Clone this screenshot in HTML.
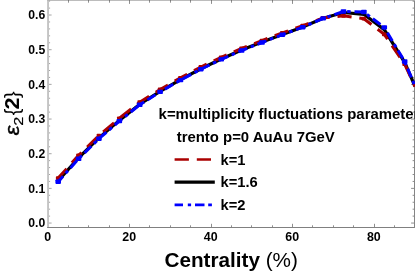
<!DOCTYPE html>
<html><head><meta charset="utf-8"><title>chart</title><style>html,body{margin:0;padding:0;background:#fff;overflow:hidden}body{width:415px;height:273px;position:relative}</style></head><body>
<svg width="415" height="273" viewBox="0 0 415 273" style="position:absolute;left:0;top:0;will-change:transform">
<defs><clipPath id="cp"><rect x="48.5" y="0.5" width="367" height="226.7"/></clipPath></defs>
<g stroke="#8c8c8c" stroke-width="1" fill="none">
<path d="M48.05,0V228" stroke="#c4c4c4" stroke-width="1.9"/>
<path d="M47.2,227.5H415" stroke="#808080" stroke-width="1"/>
<path d="M414.5,0V228" stroke="#858585" stroke-width="1"/>
<path d="M47.2,0.4H415" stroke="#b4b4b4" stroke-width="1"/>
<path d="M49,223.05h2.6" stroke="#808080" stroke-width="0.7"/>
<path d="M414,223.05h-2.9" stroke="#686868" stroke-width="0.75"/>
<path d="M49,216.12h1.1" stroke="#808080" stroke-width="0.7"/>
<path d="M414,216.12h-1.4000000000000001" stroke="#686868" stroke-width="0.75"/>
<path d="M49,209.18h1.1" stroke="#808080" stroke-width="0.7"/>
<path d="M414,209.18h-1.4000000000000001" stroke="#686868" stroke-width="0.75"/>
<path d="M49,202.25h1.1" stroke="#808080" stroke-width="0.7"/>
<path d="M414,202.25h-1.4000000000000001" stroke="#686868" stroke-width="0.75"/>
<path d="M49,195.31h1.1" stroke="#808080" stroke-width="0.7"/>
<path d="M414,195.31h-1.4000000000000001" stroke="#686868" stroke-width="0.75"/>
<path d="M49,188.38h2.6" stroke="#808080" stroke-width="0.7"/>
<path d="M414,188.38h-2.9" stroke="#686868" stroke-width="0.75"/>
<path d="M49,181.45h1.1" stroke="#808080" stroke-width="0.7"/>
<path d="M414,181.45h-1.4000000000000001" stroke="#686868" stroke-width="0.75"/>
<path d="M49,174.51h1.1" stroke="#808080" stroke-width="0.7"/>
<path d="M414,174.51h-1.4000000000000001" stroke="#686868" stroke-width="0.75"/>
<path d="M49,167.58h1.1" stroke="#808080" stroke-width="0.7"/>
<path d="M414,167.58h-1.4000000000000001" stroke="#686868" stroke-width="0.75"/>
<path d="M49,160.64h1.1" stroke="#808080" stroke-width="0.7"/>
<path d="M414,160.64h-1.4000000000000001" stroke="#686868" stroke-width="0.75"/>
<path d="M49,153.71h2.6" stroke="#808080" stroke-width="0.7"/>
<path d="M414,153.71h-2.9" stroke="#686868" stroke-width="0.75"/>
<path d="M49,146.78h1.1" stroke="#808080" stroke-width="0.7"/>
<path d="M414,146.78h-1.4000000000000001" stroke="#686868" stroke-width="0.75"/>
<path d="M49,139.84h1.1" stroke="#808080" stroke-width="0.7"/>
<path d="M414,139.84h-1.4000000000000001" stroke="#686868" stroke-width="0.75"/>
<path d="M49,132.91h1.1" stroke="#808080" stroke-width="0.7"/>
<path d="M414,132.91h-1.4000000000000001" stroke="#686868" stroke-width="0.75"/>
<path d="M49,125.97h1.1" stroke="#808080" stroke-width="0.7"/>
<path d="M414,125.97h-1.4000000000000001" stroke="#686868" stroke-width="0.75"/>
<path d="M49,119.04h2.6" stroke="#808080" stroke-width="0.7"/>
<path d="M414,119.04h-2.9" stroke="#686868" stroke-width="0.75"/>
<path d="M49,112.11h1.1" stroke="#808080" stroke-width="0.7"/>
<path d="M414,112.11h-1.4000000000000001" stroke="#686868" stroke-width="0.75"/>
<path d="M49,105.17h1.1" stroke="#808080" stroke-width="0.7"/>
<path d="M414,105.17h-1.4000000000000001" stroke="#686868" stroke-width="0.75"/>
<path d="M49,98.24h1.1" stroke="#808080" stroke-width="0.7"/>
<path d="M414,98.24h-1.4000000000000001" stroke="#686868" stroke-width="0.75"/>
<path d="M49,91.30h1.1" stroke="#808080" stroke-width="0.7"/>
<path d="M414,91.30h-1.4000000000000001" stroke="#686868" stroke-width="0.75"/>
<path d="M49,84.37h2.6" stroke="#808080" stroke-width="0.7"/>
<path d="M414,84.37h-2.9" stroke="#686868" stroke-width="0.75"/>
<path d="M49,77.44h1.1" stroke="#808080" stroke-width="0.7"/>
<path d="M414,77.44h-1.4000000000000001" stroke="#686868" stroke-width="0.75"/>
<path d="M49,70.50h1.1" stroke="#808080" stroke-width="0.7"/>
<path d="M414,70.50h-1.4000000000000001" stroke="#686868" stroke-width="0.75"/>
<path d="M49,63.57h1.1" stroke="#808080" stroke-width="0.7"/>
<path d="M414,63.57h-1.4000000000000001" stroke="#686868" stroke-width="0.75"/>
<path d="M49,56.63h1.1" stroke="#808080" stroke-width="0.7"/>
<path d="M414,56.63h-1.4000000000000001" stroke="#686868" stroke-width="0.75"/>
<path d="M49,49.70h2.6" stroke="#808080" stroke-width="0.7"/>
<path d="M414,49.70h-2.9" stroke="#686868" stroke-width="0.75"/>
<path d="M49,42.77h1.1" stroke="#808080" stroke-width="0.7"/>
<path d="M414,42.77h-1.4000000000000001" stroke="#686868" stroke-width="0.75"/>
<path d="M49,35.83h1.1" stroke="#808080" stroke-width="0.7"/>
<path d="M414,35.83h-1.4000000000000001" stroke="#686868" stroke-width="0.75"/>
<path d="M49,28.90h1.1" stroke="#808080" stroke-width="0.7"/>
<path d="M414,28.90h-1.4000000000000001" stroke="#686868" stroke-width="0.75"/>
<path d="M49,21.96h1.1" stroke="#808080" stroke-width="0.7"/>
<path d="M414,21.96h-1.4000000000000001" stroke="#686868" stroke-width="0.75"/>
<path d="M49,15.03h2.6" stroke="#808080" stroke-width="0.7"/>
<path d="M414,15.03h-2.9" stroke="#686868" stroke-width="0.75"/>
<path d="M49,8.10h1.1" stroke="#808080" stroke-width="0.7"/>
<path d="M414,8.10h-1.4000000000000001" stroke="#686868" stroke-width="0.75"/>
<path d="M49,1.16h1.1" stroke="#808080" stroke-width="0.7"/>
<path d="M414,1.16h-1.4000000000000001" stroke="#686868" stroke-width="0.75"/>
<path d="M68.5,227v-1.7 M68.5,0v2.7" stroke="#626262" stroke-width="0.72"/>
<path d="M88.5,227v-1.7 M88.5,0v2.7" stroke="#626262" stroke-width="0.72"/>
<path d="M109.5,227v-1.7 M109.5,0v2.7" stroke="#626262" stroke-width="0.72"/>
<path d="M129.5,227v-3.2 M129.5,0v3.9" stroke="#626262" stroke-width="0.72"/>
<path d="M149.5,227v-1.7 M149.5,0v2.7" stroke="#626262" stroke-width="0.72"/>
<path d="M170.5,227v-1.7 M170.5,0v2.7" stroke="#626262" stroke-width="0.72"/>
<path d="M190.5,227v-1.7 M190.5,0v2.7" stroke="#626262" stroke-width="0.72"/>
<path d="M211.5,227v-3.2 M211.5,0v3.9" stroke="#626262" stroke-width="0.72"/>
<path d="M231.5,227v-1.7 M231.5,0v2.7" stroke="#626262" stroke-width="0.72"/>
<path d="M251.5,227v-1.7 M251.5,0v2.7" stroke="#626262" stroke-width="0.72"/>
<path d="M272.5,227v-1.7 M272.5,0v2.7" stroke="#626262" stroke-width="0.72"/>
<path d="M292.5,227v-3.2 M292.5,0v3.9" stroke="#626262" stroke-width="0.72"/>
<path d="M312.5,227v-1.7 M312.5,0v2.7" stroke="#626262" stroke-width="0.72"/>
<path d="M333.5,227v-1.7 M333.5,0v2.7" stroke="#626262" stroke-width="0.72"/>
<path d="M353.5,227v-1.7 M353.5,0v2.7" stroke="#626262" stroke-width="0.72"/>
<path d="M374.5,227v-3.2 M374.5,0v3.9" stroke="#626262" stroke-width="0.72"/>
<path d="M394.5,227v-1.7 M394.5,0v2.7" stroke="#626262" stroke-width="0.72"/>
</g>
<g clip-path="url(#cp)">
<path d="M58.19,180.80 L78.57,157.90 L98.95,137.90 L119.33,120.40 L139.71,104.20 L160.09,91.40 L180.47,79.60 L200.85,68.80 L221.23,59.00 L241.61,50.10 L261.99,42.10 L282.37,34.40 L302.75,26.90 L323.13,18.20 L343.51,12.50 L363.89,14.30 L384.27,29.70 L404.65,62.30 L415.00,86.30" fill="none" stroke="#000" stroke-width="3.2"/>
<path d="M58.19,178.10 L78.57,155.40 L98.95,135.60 L119.33,118.30 L139.71,102.20 L160.09,89.50 L180.47,77.80 L200.85,67.00 L221.23,57.30 L241.61,48.50 L261.99,40.60 L282.37,32.90 L302.75,25.70 L323.13,17.90 L343.51,15.80 L363.89,18.70 L384.27,34.40 L404.65,64.10 L415.00,86.60" fill="none" stroke="#AA0000" stroke-width="3.0" stroke-dasharray="14.2 7.8" stroke-dashoffset="1.5"/>
<rect x="55.89" y="176.20" width="4.6" height="3.8" rx="0.8" fill="#AA0000"/>
<rect x="76.27" y="153.50" width="4.6" height="3.8" rx="0.8" fill="#AA0000"/>
<rect x="96.65" y="133.70" width="4.6" height="3.8" rx="0.8" fill="#AA0000"/>
<rect x="117.03" y="116.40" width="4.6" height="3.8" rx="0.8" fill="#AA0000"/>
<rect x="137.41" y="100.30" width="4.6" height="3.8" rx="0.8" fill="#AA0000"/>
<rect x="157.79" y="87.60" width="4.6" height="3.8" rx="0.8" fill="#AA0000"/>
<rect x="178.17" y="75.90" width="4.6" height="3.8" rx="0.8" fill="#AA0000"/>
<rect x="198.55" y="65.10" width="4.6" height="3.8" rx="0.8" fill="#AA0000"/>
<rect x="218.93" y="55.40" width="4.6" height="3.8" rx="0.8" fill="#AA0000"/>
<rect x="239.31" y="46.60" width="4.6" height="3.8" rx="0.8" fill="#AA0000"/>
<rect x="259.69" y="38.70" width="4.6" height="3.8" rx="0.8" fill="#AA0000"/>
<rect x="280.07" y="31.00" width="4.6" height="3.8" rx="0.8" fill="#AA0000"/>
<rect x="300.45" y="23.80" width="4.6" height="3.8" rx="0.8" fill="#AA0000"/>
<rect x="320.83" y="16.00" width="4.6" height="3.8" rx="0.8" fill="#AA0000"/>
<rect x="341.21" y="13.90" width="4.6" height="3.8" rx="0.8" fill="#AA0000"/>
<rect x="361.59" y="16.80" width="4.6" height="3.8" rx="0.8" fill="#AA0000"/>
<rect x="381.97" y="32.50" width="4.6" height="3.8" rx="0.8" fill="#AA0000"/>
<rect x="402.35" y="62.20" width="4.6" height="3.8" rx="0.8" fill="#AA0000"/>

<path d="M58.19,181.70 L78.57,158.80 L98.95,138.70 L119.33,121.10 L139.71,104.80 L160.09,91.90 L180.47,80.10 L200.85,69.20 L221.23,59.40 L241.61,50.50 L261.99,42.50 L282.37,34.70 L302.75,27.20 L323.13,18.40 L343.51,11.50 L363.89,12.00 L384.27,27.40 L404.65,61.50 L415.00,86.00" fill="none" stroke="#0000FF" stroke-width="3.0" stroke-dasharray="9.5 3.8 3.5 3.8" stroke-dashoffset="2.15"/>
<rect x="55.39" y="179.50" width="5.6" height="4.4" rx="0.8" fill="#0000FF"/>
<rect x="75.77" y="156.60" width="5.6" height="4.4" rx="0.8" fill="#0000FF"/>
<rect x="96.15" y="136.50" width="5.6" height="4.4" rx="0.8" fill="#0000FF"/>
<rect x="116.53" y="118.90" width="5.6" height="4.4" rx="0.8" fill="#0000FF"/>
<rect x="136.91" y="102.60" width="5.6" height="4.4" rx="0.8" fill="#0000FF"/>
<rect x="157.29" y="89.70" width="5.6" height="4.4" rx="0.8" fill="#0000FF"/>
<rect x="177.67" y="77.90" width="5.6" height="4.4" rx="0.8" fill="#0000FF"/>
<rect x="198.05" y="67.00" width="5.6" height="4.4" rx="0.8" fill="#0000FF"/>
<rect x="218.43" y="57.20" width="5.6" height="4.4" rx="0.8" fill="#0000FF"/>
<rect x="238.81" y="48.30" width="5.6" height="4.4" rx="0.8" fill="#0000FF"/>
<rect x="259.19" y="40.30" width="5.6" height="4.4" rx="0.8" fill="#0000FF"/>
<rect x="279.57" y="32.50" width="5.6" height="4.4" rx="0.8" fill="#0000FF"/>
<rect x="299.95" y="25.00" width="5.6" height="4.4" rx="0.8" fill="#0000FF"/>
<rect x="320.33" y="16.20" width="5.6" height="4.4" rx="0.8" fill="#0000FF"/>
<rect x="340.71" y="9.30" width="5.6" height="4.4" rx="0.8" fill="#0000FF"/>
<rect x="361.09" y="9.80" width="5.6" height="4.4" rx="0.8" fill="#0000FF"/>
<rect x="381.47" y="25.20" width="5.6" height="4.4" rx="0.8" fill="#0000FF"/>
<rect x="401.85" y="59.30" width="5.6" height="4.4" rx="0.8" fill="#0000FF"/>

</g>
<g font-family="Liberation Sans, sans-serif" font-weight="bold" fill="#000">
<text x="45.3" y="227.40" font-size="12.2" text-anchor="end">0.0</text>
<text x="45.3" y="192.73" font-size="12.2" text-anchor="end">0.1</text>
<text x="45.3" y="158.06" font-size="12.2" text-anchor="end">0.2</text>
<text x="45.3" y="123.39" font-size="12.2" text-anchor="end">0.3</text>
<text x="45.3" y="88.72" font-size="12.2" text-anchor="end">0.4</text>
<text x="45.3" y="54.05" font-size="12.2" text-anchor="end">0.5</text>
<text x="45.3" y="19.38" font-size="12.2" text-anchor="end">0.6</text>
<text x="47.70" y="241.4" font-size="12.4" text-anchor="middle">0</text>
<text x="129.22" y="241.4" font-size="12.4" text-anchor="middle">20</text>
<text x="210.74" y="241.4" font-size="12.4" text-anchor="middle">40</text>
<text x="292.26" y="241.4" font-size="12.4" text-anchor="middle">60</text>
<text x="373.78" y="241.4" font-size="12.4" text-anchor="middle">80</text>
<text x="158.6" y="118.9" font-size="14.93">k=multiplicity fluctuations parameter</text>
<text x="176.7" y="141.8" font-size="14.92">trento p=0 AuAu 7GeV</text>
<text x="220.6" y="164.8" font-size="14.7">k=1</text>
<text x="220.6" y="187.3" font-size="14.7">k=1.6</text>
<text x="220.6" y="209.8" font-size="14.7">k=2</text>
<text x="164.5" y="267.1" font-size="20.7">Centrality<tspan font-weight="normal"> (%)</tspan></text>
<text transform="translate(19.0,135.4) rotate(-90) scale(1.15,1)" font-size="19.5" font-weight="normal" font-style="italic" stroke="#000" stroke-width="0.4">ε</text>
<text transform="translate(22.8,125.8) rotate(-90) scale(1.3,1)" font-size="12.5" font-weight="normal" stroke="#000" stroke-width="0.2">2</text>
<text transform="translate(19.0,115.3) rotate(-90) scale(1,1)" font-size="20" font-weight="normal" >{</text>
<text transform="translate(19.3,109.6) rotate(-90) scale(1.05,1)" font-size="20.5" font-weight="normal" style="font-weight:bold">2</text>
<text transform="translate(19.0,98.0) rotate(-90) scale(1,1)" font-size="20" font-weight="normal" >}</text>
</g>
<path d="M174.6,159.6h14.3 M196.8,159.6h14.2" stroke="#AA0000" stroke-width="2.5"/>
<path d="M174.6,182.2H214.8" stroke="#000" stroke-width="3.2"/>
<path d="M174.6,204.9H183 M187.8,204.9H191.1 M195,204.9H204.5 M208.2,204.9H211.9" stroke="#0000FF" stroke-width="2.9"/>
</svg>
</body></html>
